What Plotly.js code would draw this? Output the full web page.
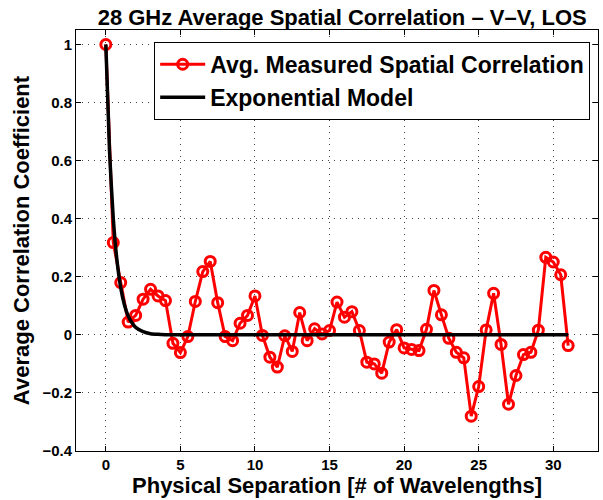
<!DOCTYPE html>
<html>
<head>
<meta charset="utf-8">
<script src="https://cdn.plot.ly/plotly-3.0.1.min.js"></script>
<style>html,body{margin:0;padding:0;background:#fff;}#chart{width:603px;height:500px;}</style>
</head>
<body>
<div id="chart"></div>
<script>
// Measured data (separation in wavelengths, correlation)
const separation = [0,0.5,1,1.5,2,2.5,3,3.5,4,4.5,5,5.5,6,6.5,7,7.5,8,8.5,9,9.5,10,10.5,11,11.5,12,12.5,13,13.5,14,14.5,15,15.5,16,16.5,17,17.5,18,18.5,19,19.5,20,20.5,21,21.5,22,22.5,23,23.5,24,24.5,25,25.5,26,26.5,27,27.5,28,28.5,29,29.5,30,30.5,31];
const measured = [1.0,0.318,0.18,0.044,0.067,0.123,0.157,0.134,0.118,-0.029,-0.061,-0.006,0.115,0.218,0.253,0.111,-0.006,-0.02,0.04,0.067,0.134,-0.002,-0.077,-0.111,-0.003,-0.057,0.077,-0.02,0.021,0.003,0.015,0.113,0.061,0.08,0.015,-0.094,-0.1,-0.132,-0.025,0.018,-0.045,-0.05,-0.054,0.019,0.153,0.069,-0.012,-0.06,-0.079,-0.28,-0.178,0.017,0.143,-0.033,-0.239,-0.14,-0.068,-0.06,0.016,0.267,0.251,0.207,-0.037];
// Exponential model curve
const modelX = [0,0.25,0.5,0.75,1,1.25,1.5,1.75,2,2.5,3,3.5,4,5,31];
const modelY = [1,0.63,0.40,0.255,0.162,0.103,0.065,0.042,0.026,0.011,0.004,0.0017,0.0007,0,0];
const seriesNames = ["Avg. Measured Spatial Correlation","Exponential Model"];
const xTicks = [0,5,10,15,20,25,30];
const yTicks = [-0.4,-0.2,0,0.2,0.4,0.6,0.8,1];

const FONT = "Liberation Sans, Arial, Helvetica, sans-serif";

const traces = [
  {x: separation, y: measured, type: "scatter", mode: "lines+markers", name: seriesNames[0],
   line: {color: "#ff0000", width: 3},
   marker: {symbol: "circle-open", size: 10, color: "#ff0000", line: {width: 3, color: "#ff0000"}}},
  {x: modelX, y: modelY, type: "scatter", mode: "lines", name: seriesNames[1],
   line: {color: "#000000", width: 3.5, shape: "spline", smoothing: 0.6}}
];

const axisCommon = {
  showline: true, linecolor: "#000", linewidth: 1, mirror: "ticks",
  ticks: "inside", ticklen: 5, tickcolor: "#000", tickwidth: 1,
  showgrid: true, gridcolor: "#444", gridwidth: 1, griddash: "1px,5px",
  zeroline: false, tickfont: {family: FONT, size: 15, color: "#000", weight: "bold"},
  automargin: false
};

const layout = {
  width: 603, height: 500,
  margin: {l: 76, r: 5, t: 30, b: 49},
  paper_bgcolor: "#fff", plot_bgcolor: "#fff",
  title: {text: "28 GHz Average Spatial Correlation – V–V, LOS", x: 0.51, xref: "paper", y: 0.966, yanchor: "middle",
          font: {family: FONT, size: 22, color: "#000", weight: "bold"}},
  xaxis: Object.assign({}, axisCommon, {range: [-2, 33], tickvals: xTicks, ticktext: xTicks.map(String),
          title: {text: "Physical Separation [# of Wavelengths]", standoff: 0, font: {family: FONT, size: 22, color: "#000", weight: "bold"}}}),
  yaxis: Object.assign({}, axisCommon, {range: [-0.4, 1.05], tickvals: yTicks,
          title: {text: "Average Correlation Coefficient", standoff: 6, font: {family: FONT, size: 22, color: "#000", weight: "bold"}}}),
  legend: {x: 0.985, xanchor: "right", y: 0.972, yanchor: "top", bgcolor: "#fff", bordercolor: "#000", borderwidth: 1,
           itemwidth: 45,
           font: {family: FONT, size: 23, color: "#000", weight: "bold"}, tracegroupgap: 0},
  showlegend: true
};

Plotly.newPlot("chart", traces, layout, {displayModeBar: false, staticPlot: true});
</script>
</body>
</html>
